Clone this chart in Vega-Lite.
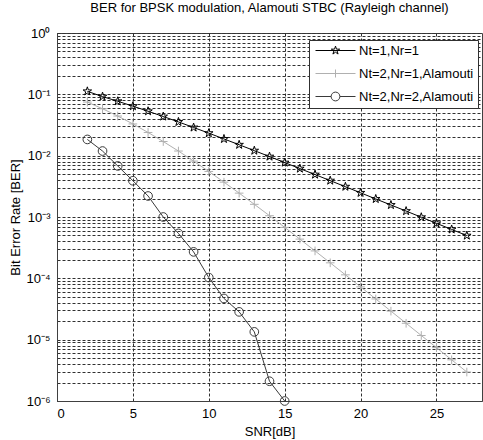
{
  "$schema": "https://vega.github.io/schema/vega-lite/v6.json",
  "width": 425,
  "height": 368,
  "autosize": "none",
  "padding": {"left": 57, "top": 33, "right": 1, "bottom": 39},
  "background": "white",
  "title": {
    "text": "BER for BPSK modulation, Alamouti STBC (Rayleigh channel)",
    "fontSize": 13,
    "fontWeight": "normal",
    "font": "Liberation Sans",
    "color": "#000000",
    "anchor": "middle",
    "offset": 12
  },
  "config": {
    "view": {"stroke": "#404040", "strokeWidth": 1},
    "axis": {
      "labelFont": "Liberation Sans",
      "titleFont": "Liberation Sans",
      "labelFontSize": 13,
      "titleFontSize": 13,
      "titleFontWeight": "normal",
      "labelColor": "#000000",
      "titleColor": "#000000",
      "domainColor": "#404040",
      "ticks": false,
      "grid": true,
      "gridColor": "#303030",
      "gridDash": [3, 2],
      "gridWidth": 1,
      "gridOpacity": 1
    }
  },
  "data": {
    "values": [
      {"snr": 2, "ber": 0.112, "series": "Nt=1,Nr=1"},
      {"snr": 3, "ber": 0.0919, "series": "Nt=1,Nr=1"},
      {"snr": 4, "ber": 0.0771, "series": "Nt=1,Nr=1"},
      {"snr": 5, "ber": 0.0642, "series": "Nt=1,Nr=1"},
      {"snr": 6, "ber": 0.053, "series": "Nt=1,Nr=1"},
      {"snr": 7, "ber": 0.0435, "series": "Nt=1,Nr=1"},
      {"snr": 8, "ber": 0.0355, "series": "Nt=1,Nr=1"},
      {"snr": 9, "ber": 0.0288, "series": "Nt=1,Nr=1"},
      {"snr": 10, "ber": 0.0233, "series": "Nt=1,Nr=1"},
      {"snr": 11, "ber": 0.01875, "series": "Nt=1,Nr=1"},
      {"snr": 12, "ber": 0.01506, "series": "Nt=1,Nr=1"},
      {"snr": 13, "ber": 0.01208, "series": "Nt=1,Nr=1"},
      {"snr": 14, "ber": 0.00967, "series": "Nt=1,Nr=1"},
      {"snr": 15, "ber": 0.00772, "series": "Nt=1,Nr=1"},
      {"snr": 16, "ber": 0.00616, "series": "Nt=1,Nr=1"},
      {"snr": 17, "ber": 0.00492, "series": "Nt=1,Nr=1"},
      {"snr": 18, "ber": 0.00392, "series": "Nt=1,Nr=1"},
      {"snr": 19, "ber": 0.00312, "series": "Nt=1,Nr=1"},
      {"snr": 20, "ber": 0.00248, "series": "Nt=1,Nr=1"},
      {"snr": 21, "ber": 0.00197, "series": "Nt=1,Nr=1"},
      {"snr": 22, "ber": 0.00157, "series": "Nt=1,Nr=1"},
      {"snr": 23, "ber": 0.00125, "series": "Nt=1,Nr=1"},
      {"snr": 24, "ber": 0.000992, "series": "Nt=1,Nr=1"},
      {"snr": 25, "ber": 0.000789, "series": "Nt=1,Nr=1"},
      {"snr": 26, "ber": 0.000627, "series": "Nt=1,Nr=1"},
      {"snr": 27, "ber": 0.000498, "series": "Nt=1,Nr=1"},
      {"snr": 2, "ber": 0.0748, "series": "Nt=2,Nr=1,Alamouti"},
      {"snr": 3, "ber": 0.0582, "series": "Nt=2,Nr=1,Alamouti"},
      {"snr": 4, "ber": 0.0443, "series": "Nt=2,Nr=1,Alamouti"},
      {"snr": 5, "ber": 0.0329, "series": "Nt=2,Nr=1,Alamouti"},
      {"snr": 6, "ber": 0.0239, "series": "Nt=2,Nr=1,Alamouti"},
      {"snr": 7, "ber": 0.017, "series": "Nt=2,Nr=1,Alamouti"},
      {"snr": 8, "ber": 0.0119, "series": "Nt=2,Nr=1,Alamouti"},
      {"snr": 9, "ber": 0.00816, "series": "Nt=2,Nr=1,Alamouti"},
      {"snr": 10, "ber": 0.00553, "series": "Nt=2,Nr=1,Alamouti"},
      {"snr": 11, "ber": 0.0037, "series": "Nt=2,Nr=1,Alamouti"},
      {"snr": 12, "ber": 0.00245, "series": "Nt=2,Nr=1,Alamouti"},
      {"snr": 13, "ber": 0.00161, "series": "Nt=2,Nr=1,Alamouti"},
      {"snr": 14, "ber": 0.00105, "series": "Nt=2,Nr=1,Alamouti"},
      {"snr": 15, "ber": 0.000677, "series": "Nt=2,Nr=1,Alamouti"},
      {"snr": 16, "ber": 0.000436, "series": "Nt=2,Nr=1,Alamouti"},
      {"snr": 17, "ber": 0.00028, "series": "Nt=2,Nr=1,Alamouti"},
      {"snr": 18, "ber": 0.000179, "series": "Nt=2,Nr=1,Alamouti"},
      {"snr": 19, "ber": 0.000114, "series": "Nt=2,Nr=1,Alamouti"},
      {"snr": 20, "ber": 0.0000726, "series": "Nt=2,Nr=1,Alamouti"},
      {"snr": 21, "ber": 0.0000461, "series": "Nt=2,Nr=1,Alamouti"},
      {"snr": 22, "ber": 0.0000292, "series": "Nt=2,Nr=1,Alamouti"},
      {"snr": 23, "ber": 0.0000185, "series": "Nt=2,Nr=1,Alamouti"},
      {"snr": 24, "ber": 0.0000117, "series": "Nt=2,Nr=1,Alamouti"},
      {"snr": 25, "ber": 0.00000742, "series": "Nt=2,Nr=1,Alamouti"},
      {"snr": 26, "ber": 0.00000469, "series": "Nt=2,Nr=1,Alamouti"},
      {"snr": 27, "ber": 0.00000297, "series": "Nt=2,Nr=1,Alamouti"},
      {"snr": 2, "ber": 0.0184, "series": "Nt=2,Nr=2,Alamouti"},
      {"snr": 3, "ber": 0.0119, "series": "Nt=2,Nr=2,Alamouti"},
      {"snr": 4, "ber": 0.0068, "series": "Nt=2,Nr=2,Alamouti"},
      {"snr": 5, "ber": 0.0039, "series": "Nt=2,Nr=2,Alamouti"},
      {"snr": 6, "ber": 0.0022, "series": "Nt=2,Nr=2,Alamouti"},
      {"snr": 7, "ber": 0.001, "series": "Nt=2,Nr=2,Alamouti"},
      {"snr": 8, "ber": 0.00054, "series": "Nt=2,Nr=2,Alamouti"},
      {"snr": 9, "ber": 0.00027, "series": "Nt=2,Nr=2,Alamouti"},
      {"snr": 10, "ber": 0.000103, "series": "Nt=2,Nr=2,Alamouti"},
      {"snr": 11, "ber": 0.000047, "series": "Nt=2,Nr=2,Alamouti"},
      {"snr": 12, "ber": 0.0000284, "series": "Nt=2,Nr=2,Alamouti"},
      {"snr": 13, "ber": 0.0000134, "series": "Nt=2,Nr=2,Alamouti"},
      {"snr": 14, "ber": 0.0000021, "series": "Nt=2,Nr=2,Alamouti"},
      {"snr": 15, "ber": 0.000001, "series": "Nt=2,Nr=2,Alamouti"}
    ]
  },
  "encoding": {
    "x": {
      "field": "snr",
      "type": "quantitative",
      "scale": {"domain": [0, 28], "nice": false, "zero": false},
      "axis": {
        "title": "SNR[dB]",
        "values": [0, 5, 10, 15, 20, 25],
        "labelPadding": 6,
        "titlePadding": 5
      }
    },
    "y": {
      "field": "ber",
      "type": "quantitative",
      "scale": {"type": "log", "domain": [0.000001, 1], "nice": false},
      "axis": {
        "title": "Bit Error Rate [BER]",
        "values": [0.000001, 0.000002, 0.000003, 0.000004, 0.000005, 0.000006, 0.000007, 0.000008, 0.000009,
                   0.00001, 0.00002, 0.00003, 0.00004, 0.00005, 0.00006, 0.00007, 0.00008, 0.00009,
                   0.0001, 0.0002, 0.0003, 0.0004, 0.0005, 0.0006, 0.0007, 0.0008, 0.0009,
                   0.001, 0.002, 0.003, 0.004, 0.005, 0.006, 0.007, 0.008, 0.009,
                   0.01, 0.02, 0.03, 0.04, 0.05, 0.06, 0.07, 0.08, 0.09,
                   0.1, 0.2, 0.3, 0.4, 0.5, 0.6, 0.7, 0.8, 0.9, 1],
        "labelExpr": "abs(log(datum.value)/LN10 - round(log(datum.value)/LN10)) < 0.000001 ? ['10⁻⁶','10⁻⁵','10⁻⁴','10⁻³','10⁻²','10⁻¹','10⁰'][round(log(datum.value)/LN10) + 6] : ''",
        "labelOverlap": false,
        "labelPadding": 7,
        "titlePadding": 3
      }
    },
    "color": {
      "field": "series",
      "type": "nominal",
      "scale": {
        "domain": ["Nt=1,Nr=1", "Nt=2,Nr=1,Alamouti", "Nt=2,Nr=2,Alamouti"],
        "range": ["#000000", "#b0b0b0", "#3a3a3a"]
      },
      "legend": null
    }
  },
  "layer": [
    {
      "mark": {"type": "line", "strokeWidth": 1},
      "encoding": {
        "color": {
          "field": "series",
          "type": "nominal",
          "legend": {
            "title": null,
            "orient": "none",
            "legendX": 252,
            "legendY": 7,
            "fillColor": "white",
            "strokeColor": "#303030",
            "padding": 4,
            "symbolSize": 64,
            "symbolStrokeWidth": 1,
            "labelOffset": 33,
            "labelFont": "Liberation Sans",
            "labelFontSize": 13,
            "labelColor": "#000000",
            "rowPadding": 9,
            "encode": {
              "symbols": {
                "update": {
                  "shape": {"signal": "datum.value == 'Nt=1,Nr=1' ? 'M-1,0H9M4,-1.1L4.248,-0.34L5.046,-0.34L4.399,0.13L4.647,0.89L4,0.42L3.353,0.89L3.601,0.13L2.954,-0.34L3.752,-0.34Z' : datum.value == 'Nt=2,Nr=1,Alamouti' ? 'M-1,0H9M4,-1V1' : 'M-1,0H2.9M5.1,0H9M5.1,0A1.1,1.1 0 1,1 2.9,0A1.1,1.1 0 1,1 5.1,0'"},
                  "fill": {"value": "transparent"}
                }
              }
            }
          }
        }
      }
    },
    {
      "transform": [{"filter": "datum.series == 'Nt=1,Nr=1'"}],
      "mark": {"type": "point", "filled": false, "strokeWidth": 1, "size": 80, "opacity": 1,
               "shape": "M0,-1L0.225,-0.309L0.951,-0.309L0.363,0.118L0.588,0.809L0,0.382L-0.588,0.809L-0.363,0.118L-0.951,-0.309L-0.225,-0.309Z"},
      "encoding": {}
    },
    {
      "transform": [{"filter": "datum.series == 'Nt=2,Nr=1,Alamouti'"}],
      "mark": {"type": "point", "filled": false, "strokeWidth": 1, "size": 75, "opacity": 1,
               "shape": "M-1,0H1M0,-1V1"},
      "encoding": {}
    },
    {
      "transform": [{"filter": "datum.series == 'Nt=2,Nr=2,Alamouti'"}],
      "mark": {"type": "point", "filled": false, "strokeWidth": 1, "size": 75, "opacity": 1,
               "shape": "circle"},
      "encoding": {}
    }
  ]
}
